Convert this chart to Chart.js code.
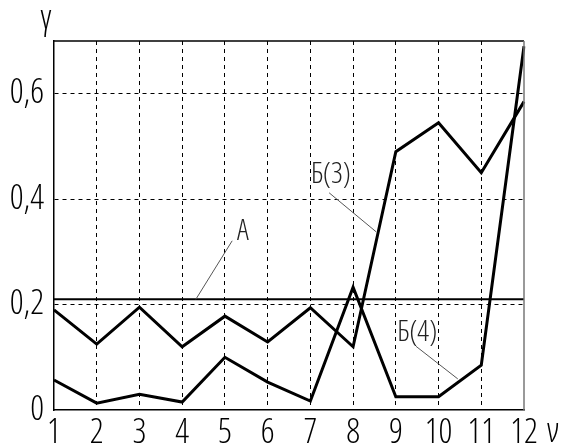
<!DOCTYPE html>
<html><head><meta charset="utf-8">
<script src="https://cdn.jsdelivr.net/npm/chart.js@4"></script>
<style>html,body{margin:0;padding:0;background:#fff}#wrap{width:568px;height:445px;position:relative}</style>
</head><body><div id="wrap"><canvas id="c" width="568" height="445"></canvas></div>
<script>
// ---- data ----
const categories = ['1','2','3','4','5','6','7','8','9','10','11','12'];
const seriesB3 = [0.19, 0.125, 0.195, 0.12, 0.178, 0.129, 0.194, 0.12, 0.49, 0.545, 0.45, 0.585];
const seriesB4 = [0.057, 0.013, 0.03, 0.015, 0.10, 0.053, 0.017, 0.233, 0.025, 0.025, 0.085, 0.69];
const levelA = 0.21;
const yTickValues = [0, 0.2, 0.4, 0.6];
const yTickLabels = ['0', '0,2', '0,4', '0,6'];
const xTitle = 'ν';
const yTitle = 'γ';
// annotation labels: [text, labelX, labelY, leaderFromX, leaderFromY, leaderToX, leaderToY] in data units
const notes = [
  ['A', 5.42, 0.338, 5.17, 0.321, 4.32, 0.21],
  ['Б(3)', 7.48, 0.446, 7.44, 0.412, 8.54, 0.338],
  ['Б(4)', 9.5, 0.146, 9.47, 0.121, 10.45, 0.059]
];

const FONT = "'Open Sans','Noto Sans','DejaVu Sans',sans-serif";
const WEIGHT = "ultra-condensed 300";

const decor = {
  id: 'decor',
  afterDatasetsDraw(chart) {
    const {ctx, chartArea: ca, scales: {x, y}} = chart;
    ctx.save();
    ctx.lineWidth = 1.5;
    ctx.strokeStyle = '#000';
    ctx.beginPath(); ctx.moveTo(ca.left, ca.top); ctx.lineTo(ca.right, ca.top); ctx.stroke();
    ctx.strokeStyle = '#777';
    ctx.beginPath(); ctx.moveTo(ca.right, ca.top); ctx.lineTo(ca.right, ca.bottom); ctx.stroke();
    const xp = v => x.getPixelForValue(v - 1);
    notes.forEach(n => {
      ctx.strokeStyle = '#555';
      ctx.lineWidth = 1;
      ctx.beginPath();
      ctx.moveTo(xp(n[3]), y.getPixelForValue(n[4]));
      ctx.lineTo(xp(n[5]), y.getPixelForValue(n[6]));
      ctx.stroke();
      ctx.fillStyle = '#222';
      ctx.font = WEIGHT + " 29px " + FONT;
      ctx.textAlign = 'center';
      ctx.textBaseline = 'middle';
      ctx.fillText(n[0], xp(n[1]), y.getPixelForValue(n[2]));
    });
    ctx.fillStyle = '#000';
    ctx.font = WEIGHT + " 34px " + FONT;
    ctx.textAlign = 'center';
    ctx.textBaseline = 'middle';
    ctx.fillText(xTitle, ca.right + 29, ca.bottom + 22);
    ctx.fillText(yTitle, ca.left - 8, ca.top - 22);
    ctx.restore();
  }
};

new Chart(document.getElementById('c'), {
  type: 'line',
  data: {
    labels: categories,
    datasets: [
      { label: 'A', data: categories.map(() => levelA), borderColor: '#000', borderWidth: 2, pointRadius: 0, tension: 0 },
      { label: 'Б(3)', data: seriesB3, borderColor: '#000', borderWidth: 3, pointRadius: 0, tension: 0 },
      { label: 'Б(4)', data: seriesB4, borderColor: '#000', borderWidth: 3, pointRadius: 0, tension: 0 }
    ]
  },
  options: {
    responsive: false,
    animation: false,
    devicePixelRatio: 1,
    layout: { padding: { left: 0, top: 41, right: 44, bottom: 0 } },
    plugins: { legend: { display: false }, tooltip: { enabled: false } },
    scales: {
      x: {
        type: 'category',
        offset: false,
        afterFit: s => { s.height = 35; },
        grid: {
          drawTicks: false,
          lineWidth: 1,
          color: c => (c.index === 0 || c.index === categories.length - 1) ? 'rgba(0,0,0,0)' : '#000'
        },
        border: { display: true, color: '#000', width: 1.5, dash: [4, 4] },
        ticks: { color: '#000', padding: 3, maxRotation: 0, autoSkip: false, font: { family: FONT, size: 34, weight: WEIGHT } }
      },
      y: {
        min: 0, max: 0.7,
        afterFit: s => { s.width = 54; },
        afterBuildTicks: s => { s.ticks = yTickValues.map(v => ({ value: v })); },
        grid: {
          drawTicks: false,
          lineWidth: 1,
          color: c => (c.tick && c.tick.value === 0) ? 'rgba(0,0,0,0)' : '#000'
        },
        border: { display: true, color: '#000', width: 1.5, dash: [4, 4] },
        ticks: {
          color: '#000', padding: 10,
          font: { family: FONT, size: 34, weight: WEIGHT },
          callback: (v) => { const i = yTickValues.indexOf(v); return i >= 0 ? yTickLabels[i] : ''; }
        }
      }
    }
  },
  plugins: [decor]
});
</script>
</body></html>
